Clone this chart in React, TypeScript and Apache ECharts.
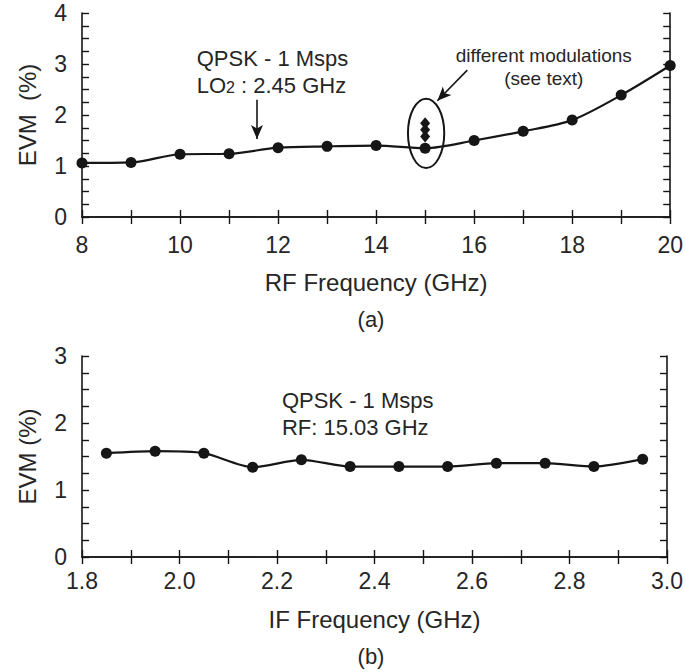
import React, { useEffect, useRef } from "react";
import * as echarts from "echarts";

// ---- data ----
const rfFreq = [8, 9, 10, 11, 12, 13, 14, 15, 16, 17, 18, 19, 20];
const rfEvm = [1.06, 1.07, 1.23, 1.24, 1.36, 1.385, 1.4, 1.35, 1.5, 1.68, 1.9, 2.39, 2.97];
const modFreq = [15, 15, 15];
const modEvm = [1.84, 1.71, 1.58];
const ifFreq = [1.85, 1.95, 2.05, 2.15, 2.25, 2.35, 2.45, 2.55, 2.65, 2.75, 2.85, 2.95];
const ifEvm = [1.55, 1.58, 1.55, 1.34, 1.45, 1.35, 1.35, 1.35, 1.4, 1.4, 1.35, 1.46];

const rfAxis = { min: 8, max: 20, step: 1, labelEvery: 2 };
const ifAxis = { min: 1.8, max: 3.0, step: 0.1, labelEvery: 2 };
const evmTopAxis = { min: 0, max: 4, step: 0.25 };
const evmBottomAxis = { min: 0, max: 3, step: 0.25 };

const INK = "#161616";
const TXT = "#262626";
const FONT = "'Liberation Sans', Arial, Helvetica, sans-serif";

export default function App() {
  const ref = useRef<HTMLDivElement>(null);

  useEffect(() => {
    if (!ref.current) return;
    const chart = echarts.init(ref.current, undefined, { renderer: "svg" });

    const tickCommon = {
      axisLine: { show: true, lineStyle: { color: INK, width: 1.6 } },
      axisTick: { show: true, inside: true, length: 7, lineStyle: { color: INK, width: 1.4 } },
      splitLine: { show: false },
    };
    const labelStyle = { color: TXT, fontSize: 23, fontFamily: FONT };
    const nameStyle = { color: TXT, fontSize: 24, fontFamily: FONT };

    const xLabelRF = (v: number) => (Math.round(v) % rfAxis.labelEvery === 0 ? String(Math.round(v)) : "");
    const xLabelIF = (v: number) => {
      const k = Math.round(v * 10);
      return k % ifAxis.labelEvery === 0 ? (k / 10).toFixed(1) : "";
    };
    const yLabel = (v: number) => (Math.abs(v - Math.round(v)) < 1e-6 ? String(Math.round(v)) : "");

    const option: any = {
      animation: false,
      grid: [
        { left: 82, right: 15, top: 13, height: 204 },
        { left: 82, right: 15, top: 356, height: 201 },
      ],
      xAxis: [
        {
          type: "value", gridIndex: 0, position: "bottom", min: rfAxis.min, max: rfAxis.max, interval: rfAxis.step,
          ...tickCommon,
          axisLabel: { ...labelStyle, margin: 16, formatter: xLabelRF },
          name: "RF Frequency (GHz)", nameLocation: "middle", nameGap: 53,
          nameTextStyle: nameStyle,
        },
        {
          type: "value", gridIndex: 0, position: "top", min: rfAxis.min, max: rfAxis.max, interval: rfAxis.step,
          ...tickCommon, axisLabel: { show: false },
        },
        {
          type: "value", gridIndex: 1, position: "bottom", min: ifAxis.min, max: ifAxis.max, interval: ifAxis.step,
          ...tickCommon,
          axisLabel: { ...labelStyle, margin: 12, formatter: xLabelIF },
          name: "IF Frequency (GHz)", nameLocation: "middle", nameGap: 50,
          nameTextStyle: nameStyle,
        },
        {
          type: "value", gridIndex: 1, position: "top", min: ifAxis.min, max: ifAxis.max, interval: ifAxis.step,
          ...tickCommon, axisLabel: { show: false },
        },
      ],
      yAxis: [
        {
          type: "value", gridIndex: 0, position: "left", min: evmTopAxis.min, max: evmTopAxis.max, interval: evmTopAxis.step,
          ...tickCommon,
          axisLabel: { ...labelStyle, margin: 15, formatter: yLabel },
          name: "EVM  (%)", nameLocation: "middle", nameGap: 43,
          nameTextStyle: nameStyle,
        },
        {
          type: "value", gridIndex: 0, position: "right", min: evmTopAxis.min, max: evmTopAxis.max, interval: evmTopAxis.step,
          ...tickCommon, axisLabel: { show: false },
        },
        {
          type: "value", gridIndex: 1, position: "left", min: evmBottomAxis.min, max: evmBottomAxis.max, interval: evmBottomAxis.step,
          ...tickCommon,
          axisLabel: { ...labelStyle, margin: 15, formatter: yLabel },
          name: "EVM (%)", nameLocation: "middle", nameGap: 43,
          nameTextStyle: nameStyle,
        },
        {
          type: "value", gridIndex: 1, position: "right", min: evmBottomAxis.min, max: evmBottomAxis.max, interval: evmBottomAxis.step,
          ...tickCommon, axisLabel: { show: false },
        },
      ],
      series: [
        {
          type: "line", xAxisIndex: 0, yAxisIndex: 0, clip: false,
          data: rfFreq.map((f, i) => [f, rfEvm[i]]),
          smooth: 0.3, symbol: "circle", symbolSize: 11,
          itemStyle: { color: INK, opacity: 1 }, lineStyle: { color: INK, width: 2.2 },
          markLine: {
            silent: true, animation: false, symbol: ["none", "arrow"], symbolSize: [9, 14],
            label: { show: false },
            lineStyle: { color: INK, width: 1.6, type: "solid" },
            data: [
              [{ coord: [11.57, 2.3] }, { coord: [11.57, 1.53] }],
              [{ coord: [15.86, 2.88] }, { coord: [15.25, 2.28] }],
            ],
          },
        },
        {
          type: "scatter", xAxisIndex: 0, yAxisIndex: 0,
          data: modFreq.map((f, i) => [f, modEvm[i]]),
          symbol: "diamond", symbolSize: [10, 12], itemStyle: { color: INK, opacity: 1 },
        },
        {
          type: "line", xAxisIndex: 2, yAxisIndex: 2, clip: false,
          data: ifFreq.map((f, i) => [f, ifEvm[i]]),
          smooth: 0.25, symbol: "circle", symbolSize: 11,
          itemStyle: { color: INK, opacity: 1 }, lineStyle: { color: INK, width: 2.2 },
        },
      ],
    };
    chart.setOption(option);

    const p0 = (x: number, y: number) => chart.convertToPixel({ xAxisIndex: 0, yAxisIndex: 0 }, [x, y]) as number[];
    const p1 = (x: number, y: number) => chart.convertToPixel({ xAxisIndex: 2, yAxisIndex: 2 }, [x, y]) as number[];

    const txt = (pos: number[], text: string, align: string, size = 22, rich?: any) => ({
      type: "text",
      x: pos[0], y: pos[1],
      style: {
        text, align, verticalAlign: "middle",
        fill: TXT, fontSize: size, fontFamily: FONT,
        ...(rich ? { rich } : {}),
      },
    });

    const eC = p0(15.02, 1.64);
    const eR = p0(15.39, 1.64);
    const eT = p0(15.02, 2.32);

    const gridTop = p0(rfAxis.min, evmTopAxis.min);
    const gridBot = p1(ifAxis.min, evmBottomAxis.min);
    const midX = 371;

    chart.setOption({
      graphic: [
        txt(p0(10.34, 3.1), "QPSK - 1 Msps", "left"),
        txt(p0(10.34, 2.58), "{a|LO}{s|2}{a| : 2.45 GHz}", "left", 22, {
          a: { fontSize: 22, fontFamily: FONT, fill: TXT },
          s: { fontSize: 16, fontFamily: FONT, fill: TXT, verticalAlign: "bottom", padding: [0, 0, 1, 0] },
        }),
        txt(p0(17.42, 3.17), "different modulations", "center", 19),
        txt(p0(17.42, 2.72), "(see text)", "center", 19),
        {
          type: "ellipse",
          shape: { cx: eC[0], cy: eC[1], rx: Math.abs(eR[0] - eC[0]), ry: Math.abs(eC[1] - eT[1]) },
          style: { fill: "none", stroke: INK, lineWidth: 2 },
        },
        txt(p1(2.21, 2.33), "QPSK - 1 Msps", "left"),
        txt(p1(2.21, 1.94), "RF: 15.03 GHz", "left"),
        txt([midX, gridTop[1] + 102], "(a)", "center", 22),
        txt([midX, gridBot[1] + 99], "(b)", "center", 22),
      ],
    });

    return () => chart.dispose();
  }, []);

  return (
    <div
      ref={ref}
      style={{ position: "absolute", left: 0, top: 0, width: 686, height: 672, background: "#fff" }}
    />
  );
}
